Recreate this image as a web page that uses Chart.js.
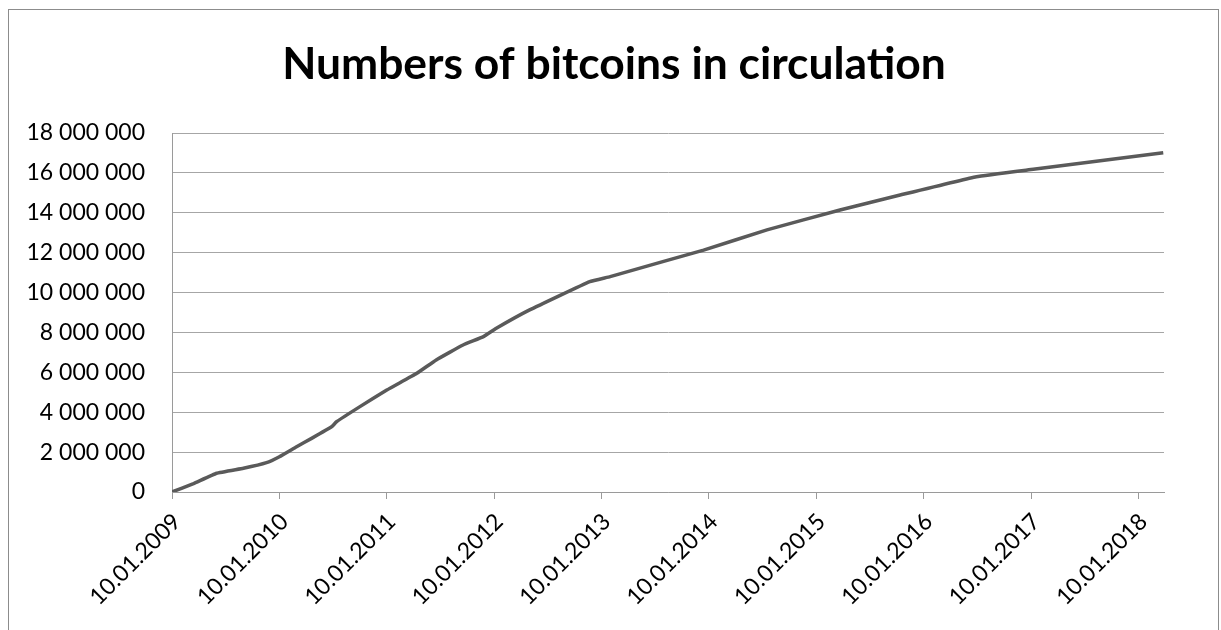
<!DOCTYPE html>
<html>
<head>
<meta charset="utf-8">
<script src="https://cdn.jsdelivr.net/npm/chart.js@4"></script>
<style>
  html, body { margin: 0; padding: 0; background: #fff; }
  #wrap { position: relative; width: 1221px; height: 630px; }
  #frame { position: absolute; left: 8px; top: 9px; width: 1211px; height: 640px;
           border: 1px solid #8c8c8c; box-sizing: border-box; }
  canvas { position: absolute; left: 0; top: 0; }
</style>
</head>
<body>
<div id="wrap">
  <div id="frame"></div>
  <canvas id="grafica" width="1221" height="630"></canvas>
</div>
<script>
// tiempo en años decimales (2009 = 10.01.2009), valores en millones de BTC
const anios = [2009.0, 2009.20, 2009.415, 2009.665, 2009.88, 2010.0, 2010.16, 2010.30, 2010.486, 2010.532,
  2010.75, 2011.0, 2011.28, 2011.46, 2011.71, 2011.90, 2012.02, 2012.33, 2012.89,
  2013.08, 2013.57, 2013.95, 2014.54, 2015.22, 2015.78, 2016.49, 2017.02, 2018.23];
const millones = [0, 0.42, 0.94, 1.19, 1.47, 1.77, 2.27, 2.69, 3.27, 3.52,
  4.28, 5.11, 5.95, 6.62, 7.37, 7.79, 8.21, 9.13, 10.55,
  10.80, 11.55, 12.13, 13.14, 14.14, 14.89, 15.81, 16.18, 17.01];
const ticksAnio = [2009, 2010, 2011, 2012, 2013, 2014, 2015, 2016, 2017, 2018];
const titulo = "Numbers of bitcoins in circulation";

const puntos = anios.map((a, i) => ({ x: a, y: millones[i] * 1000000 }));

const fuente = "Lato, 'Open Sans', sans-serif";

// título dibujado a mano para poder centrarlo donde está en el original
const pluginTitulo = {
  id: "tituloPropio",
  afterDraw(chart) {
    const ctx = chart.ctx;
    ctx.save();
    ctx.fillStyle = "#000";
    ctx.font = "bold 44.4px " + fuente;
    ctx.textAlign = "center";
    ctx.textBaseline = "alphabetic";
    ctx.fillText(titulo, 614, 79);
    ctx.restore();
  }
};

new Chart(document.getElementById("grafica"), {
  type: "line",
  data: {
    datasets: [{
      data: puntos,
      borderColor: "#5a5a5a",
      borderWidth: 3.5,
      pointRadius: 0,
      tension: 0.1,
      fill: false
    }]
  },
  options: {
    responsive: false,
    animation: false,
    layout: { padding: { left: 0, right: 57, top: 133, bottom: 0 } },
    plugins: {
      legend: { display: false },
      tooltip: { enabled: false },
      title: { display: false }
    },
    scales: {
      x: {
        type: "linear",
        min: 2009,
        max: 2018.237,
        afterBuildTicks: (s) => { s.ticks = ticksAnio.map(v => ({ value: v })); },
        afterFit: (s) => { s.height = 138; },
        grid: { drawOnChartArea: false, drawTicks: true, tickLength: 7, color: "#9a9a9a" },
        border: { color: "#9a9a9a", width: 1 },
        ticks: {
          minRotation: 45, maxRotation: 45, autoSkip: false,
          padding: 9,
          labelOffset: 5,
          color: "#000",
          font: { family: fuente, size: 23 },
          callback: (v) => "10.01." + v
        }
      },
      y: {
        min: 0,
        max: 18000000,
        afterFit: (s) => { s.width = 172; },
        grid: { color: "#a6a6a6", drawTicks: false },
        border: { color: "#9a9a9a", width: 1 },
        ticks: {
          stepSize: 2000000,
          padding: 27,
          color: "#000",
          font: { family: fuente, size: 23 },
          callback: (v) => String(v).replace(/\B(?=(\d{3})+(?!\d))/g, " ")
        }
      }
    }
  },
  plugins: [pluginTitulo]
});
</script>
</body>
</html>
